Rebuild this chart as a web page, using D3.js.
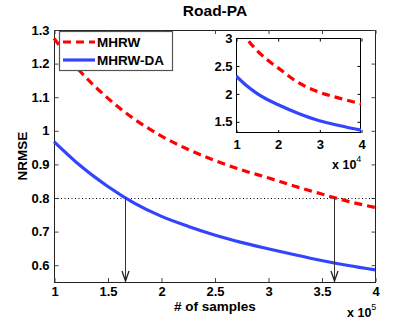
<!DOCTYPE html>
<html>
<head>
<meta charset="utf-8">
<script src="https://cdn.jsdelivr.net/npm/d3@7"></script>
<style>
  body { margin: 0; background: #fff; }
  text { font-family: "Liberation Sans", Arial, sans-serif; font-weight: bold; fill: #000; }
</style>
</head>
<body>
<div id="chart"></div>
<script>
// data
var xMain = [1, 1.25, 1.5, 1.75, 2, 2.25, 2.5, 2.75, 3, 3.25, 3.5, 3.75, 4];
var mhrwMain = [1.275, 1.175, 1.098, 1.035, 0.985, 0.945, 0.912, 0.884, 0.86, 0.835, 0.812, 0.79, 0.772];
var mhrwdaMain = [0.968, 0.895, 0.835, 0.785, 0.746, 0.716, 0.69, 0.668, 0.649, 0.631, 0.614, 0.599, 0.586];

var xInset = [1, 1.25, 1.5, 1.75, 2, 2.5, 3, 3.5, 4];
var mhrwInset = [3.35, 3.0, 2.78, 2.61, 2.47, 2.2, 2.03, 1.92, 1.82];
var mhrwdaInset = [2.32, 2.15, 2.01, 1.9, 1.81, 1.65, 1.52, 1.43, 1.35];

var xTicks = [1, 1.5, 2, 2.5, 3, 3.5, 4];
var yTicks = [0.6, 0.7, 0.8, 0.9, 1, 1.1, 1.2, 1.3];
var xTicksInset = [1, 2, 3, 4];
var yTicksInset = [1.5, 2, 2.5, 3];
var threshold = 0.8;
var crossings = [1.664, 3.615];   // where each curve hits 0.8

var svgWidth = 415, svgHeight = 319;
var margin = {top: 30, right: 40, bottom: 37, left: 54};
var width = svgWidth - margin.left - margin.right;
var height = svgHeight - margin.top - margin.bottom;

var red = "#ff0000", blue = "#3344ff";
var fmt = d => d3.format("")(d);

var svg = d3.select("#chart").append("svg")
    .attr("width", svgWidth)
    .attr("height", svgHeight);

svg.append("defs").append("clipPath").attr("id", "insetClip")
  .append("rect").attr("x", 236).attr("y", 38).attr("width", 125).attr("height", 95);

var chartGroup = svg.append("g")
    .attr("transform", `translate(${margin.left}, ${margin.top})`);

var x = d3.scaleLinear().domain([1, 4]).range([0, width]);
var y = d3.scaleLinear().domain([0.55, 1.3]).range([height, 0]);

// box
chartGroup.append("rect")
    .attr("x", 0.5).attr("y", 0.5)
    .attr("width", width).attr("height", height)
    .attr("fill", "none").attr("stroke", "#222").attr("stroke-width", 1);

// axes with inward ticks
var bottomAxis = d3.axisBottom(x).tickValues(xTicks).tickSizeInner(-4).tickSizeOuter(0).tickPadding(5).tickFormat(fmt);
var leftAxis = d3.axisLeft(y).tickValues(yTicks).tickSizeInner(-4).tickSizeOuter(0).tickPadding(5).tickFormat(fmt);

var gx = chartGroup.append("g").attr("transform", `translate(0.5, ${height})`).call(bottomAxis);
var gy = chartGroup.append("g").attr("transform", "translate(0.5, 0)").call(leftAxis);
chartGroup.append("g").attr("transform", "translate(0.5, 0)")
    .call(d3.axisTop(x).tickValues(xTicks).tickSizeInner(-4).tickSizeOuter(0).tickFormat(""));
chartGroup.append("g").attr("transform", `translate(${width + 0.5}, 0)`)
    .call(d3.axisRight(y).tickValues(yTicks).tickSizeInner(-4).tickSizeOuter(0).tickFormat(""));
chartGroup.selectAll(".domain").remove();
chartGroup.selectAll(".tick line").attr("stroke", "#444");
gx.selectAll("text").style("font-size", "13px").attr("font-family", null).attr("fill", "#000");
gy.selectAll("text").style("font-size", "13px").attr("font-family", null).attr("fill", "#000");

// 0.8 dotted line
chartGroup.append("line")
    .attr("x1", x(1)).attr("x2", x(4))
    .attr("y1", Math.round(y(threshold)) + 0.5).attr("y2", Math.round(y(threshold)) + 0.5)
    .attr("stroke", "#000").attr("stroke-width", 1).attr("stroke-dasharray", "1,2.5");

// curves
var line = d3.line().x(d => x(d[0])).y(d => y(d[1])).curve(d3.curveMonotoneX);
chartGroup.append("path")
    .datum(xMain.map((v, i) => [v, mhrwdaMain[i]]))
    .attr("d", line).attr("fill", "none").attr("stroke", blue).attr("stroke-width", 3.2);
chartGroup.append("path")
    .datum(xMain.map((v, i) => [v, mhrwMain[i]]))
    .attr("d", line).attr("fill", "none").attr("stroke", red).attr("stroke-width", 3.2)
    .attr("stroke-dasharray", "8,5");

// arrows
crossings.forEach(function(c) {
    var ax = Math.round(x(c)) + 0.5;
    chartGroup.append("line")
        .attr("x1", ax).attr("x2", ax)
        .attr("y1", y(threshold)).attr("y2", height - 1)
        .attr("stroke", "#333").attr("stroke-width", 1);
    chartGroup.append("path")
        .attr("d", `M${ax - 3.5},${height - 11} L${ax},${height - 1} L${ax + 3.5},${height - 11}`)
        .attr("fill", "none").attr("stroke", "#222").attr("stroke-width", 1.3);
});

// legend
var legend = svg.append("g");
legend.append("rect")
    .attr("x", 59.5).attr("y", 31.5).attr("width", 113).attr("height", 39)
    .attr("fill", "#fff").attr("stroke", "#555").attr("stroke-width", 1.2);
var legendItems = [
    {name: "MHRW", color: red, dash: "8,5"},
    {name: "MHRW-DA", color: blue, dash: null}
];
legendItems.forEach(function(item, i) {
    var ly = 42 + i * 18;
    legend.append("line")
        .attr("x1", 63).attr("x2", 95).attr("y1", ly).attr("y2", ly)
        .attr("stroke", item.color).attr("stroke-width", 3.2)
        .attr("stroke-dasharray", item.dash);
    legend.append("text")
        .attr("x", 97).attr("y", ly + 5)
        .style("font-size", "13.5px")
        .text(item.name);
});

// inset
var inset = svg.append("g");
var xi = d3.scaleLinear().domain([1, 4]).range([236, 361]);
var yi = d3.scaleLinear().domain([1.3, 3]).range([133, 38]);
inset.append("rect")
    .attr("x", 236.5).attr("y", 38.5).attr("width", 124).attr("height", 94)
    .attr("fill", "#fff").attr("stroke", "#000").attr("stroke-width", 1);
inset.append("g").attr("transform", "translate(0.5, 133)")
    .call(d3.axisBottom(xi).tickValues(xTicksInset).tickSizeInner(-3).tickSizeOuter(0).tickPadding(7).tickFormat(fmt));
inset.append("g").attr("transform", "translate(236.5, 0)")
    .call(d3.axisLeft(yi).tickValues(yTicksInset).tickSizeInner(-3).tickSizeOuter(0).tickPadding(4).tickFormat(fmt));
inset.append("g").attr("transform", "translate(0.5, 38.5)")
    .call(d3.axisTop(xi).tickValues(xTicksInset).tickSizeInner(-3).tickSizeOuter(0).tickFormat(""));
inset.append("g").attr("transform", "translate(360.5, 0)")
    .call(d3.axisRight(yi).tickValues(yTicksInset).tickSizeInner(-3).tickSizeOuter(0).tickFormat(""));
inset.selectAll(".domain").remove();
inset.selectAll("text").style("font-size", "13px").attr("font-family", null).attr("fill", "#000");

var lineInset = d3.line().x(d => xi(d[0])).y(d => yi(d[1])).curve(d3.curveMonotoneX);
var insetCurves = inset.append("g").attr("clip-path", "url(#insetClip)");
insetCurves.append("path")
    .datum(xInset.map((v, i) => [v, mhrwdaInset[i]]))
    .attr("d", lineInset).attr("fill", "none").attr("stroke", blue).attr("stroke-width", 3.2);
insetCurves.append("path")
    .datum(xInset.map((v, i) => [v, mhrwInset[i]]))
    .attr("d", lineInset).attr("fill", "none").attr("stroke", red).attr("stroke-width", 3.2)
    .attr("stroke-dasharray", "8,5");

// exponent labels
function expLabel(tx, ty, p) {
    var t = svg.append("text").attr("x", tx).attr("y", ty).style("font-size", "12.5px");
    t.append("tspan").text("x 10");
    t.append("tspan").attr("dy", -7).style("font-size", "9px").style("font-weight", "normal").text(p);
}
expLabel(332, 169, "4");
expLabel(347, 317, "5");

// title and labels
svg.append("text")
    .attr("x", 215).attr("y", 16)
    .attr("text-anchor", "middle")
    .style("font-size", "15.5px")
    .text("Road-PA");

svg.append("text")
    .attr("x", 215).attr("y", 311)
    .attr("text-anchor", "middle")
    .style("font-size", "13.5px")
    .text("# of samples");

svg.append("text")
    .attr("transform", "rotate(-90)")
    .attr("x", -156).attr("y", 27)
    .attr("text-anchor", "middle")
    .style("font-size", "13.5px")
    .text("NRMSE");
</script>
</body>
</html>
